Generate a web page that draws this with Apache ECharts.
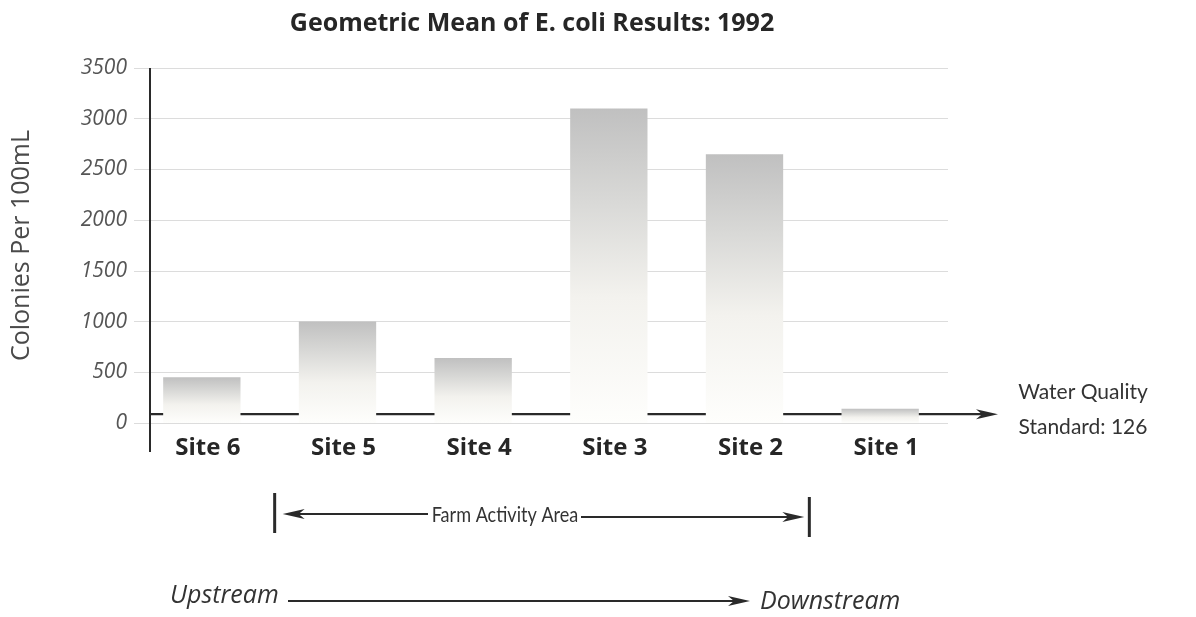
<!DOCTYPE html>
<html>
<head>
<meta charset="utf-8">
<script src="https://cdn.jsdelivr.net/npm/echarts@6/dist/echarts.min.js"></script>
<style>
html,body{margin:0;padding:0;background:#fff;}
#c{width:1196px;height:617px;}
</style>
</head>
<body>
<div id="c"></div>
<script>
const categories = ['Site 6', 'Site 5', 'Site 4', 'Site 3', 'Site 2', 'Site 1'];
const ecoliValues = [450, 1000, 640, 3100, 2650, 140];
const waterQualityStandard = 126;
const yTicks = [0, 500, 1000, 1500, 2000, 2500, 3000, 3500];

const LATO = 'Lato, "Open Sans", sans-serif';
const OPEN = '"Open Sans", Lato, sans-serif';
const chart = echarts.init(document.getElementById('c'));

const barGradient = new echarts.graphic.LinearGradient(0, 0, 0, 1, [
  {offset: 0, color: '#c0c0c0'},
  {offset: 0.3, color: '#d9d9d7'},
  {offset: 0.6, color: '#f3f2ee'},
  {offset: 1, color: '#fefefc'}
]);

chart.setOption({
  animation: false,
  backgroundColor: '#ffffff',
  title: {
    text: 'Geometric Mean of E. coli Results: 1992',
    left: 527, top: 6, textAlign: 'center',
    textStyle: {fontFamily: OPEN, fontSize: 25, fontWeight: 'bold', color: '#262626'}
  },
  grid: {left: 134, right: 248, top: 68, bottom: 194},
  xAxis: {
    type: 'category',
    data: categories,
    axisLine: {show: false},
    axisTick: {show: false},
    axisLabel: {margin: 13, padding: [0, 0, 0, 12], fontFamily: OPEN, fontSize: 24, fontWeight: 'bold', color: '#262626'}
  },
  yAxis: {
    type: 'value',
    min: yTicks[0], max: yTicks[yTicks.length - 1], interval: 500,
    name: 'Colonies Per 100mL',
    nameLocation: 'middle', nameGap: 100, nameRotate: 90,
    nameTextStyle: {fontFamily: OPEN, fontSize: 25, color: '#4a4a4a'},
    axisLine: {show: false},
    axisTick: {show: false},
    axisLabel: {margin: 7, fontFamily: OPEN, fontSize: 21, fontStyle: 'italic', color: '#555',
      formatter: v => String(v)},
    splitLine: {lineStyle: {color: '#dcdcdc', width: 1}}
  },
  series: [{
    type: 'bar',
    data: ecoliValues,
    barWidth: '57%',
    itemStyle: {color: barGradient}
  }]
});

// decorations positioned through the chart's own scales
const yStd = chart.convertToPixel({yAxisIndex: 0}, waterQualityStandard);
const y0 = chart.convertToPixel({yAxisIndex: 0}, 0);
const yTop = chart.convertToPixel({yAxisIndex: 0}, yTicks[yTicks.length - 1]);
const xs = categories.map((c, i) => chart.convertToPixel({xAxisIndex: 0}, i));
const axisX = 150;
const farmL = (xs[0] + xs[1]) / 2 + 5;
const farmR = (xs[4] + xs[5]) / 2 - 3;
const arrowEnd = 998;
const ink = '#2a2a2a';
const txt = (extra) => Object.assign({fill: '#333', textVerticalAlign: 'middle'}, extra);

function arrowHead(x, y, dir) { // dir 1 = right, -1 = left
  return {type: 'polygon', shape: {points: [[x, y], [x - dir * 22, y - 5], [x - dir * 16, y], [x - dir * 22, y + 5]]}, style: {fill: ink}};
}

chart.setOption({
  graphic: [
    // y axis line
    {type: 'line', shape: {x1: axisX, y1: yTop, x2: axisX, y2: y0 + 29}, style: {stroke: ink, lineWidth: 2}},
    // water quality standard line with arrow
    {type: 'line', shape: {x1: axisX, y1: yStd + 4, x2: arrowEnd - 14, y2: yStd + 4}, style: {stroke: ink, lineWidth: 2.2}},
    arrowHead(arrowEnd, yStd + 4, 1),
    {type: 'text', x: 1083, y: 392, style: txt({text: 'Water Quality', textAlign: 'center', fontFamily: LATO, fontSize: 21})},
    {type: 'text', x: 1083, y: 427, style: txt({text: 'Standard: 126', textAlign: 'center', fontFamily: LATO, fontSize: 21})},
    // farm activity area
    {type: 'line', shape: {x1: farmL, y1: 493, x2: farmL, y2: 533}, style: {stroke: ink, lineWidth: 3}},
    {type: 'line', shape: {x1: farmR, y1: 497, x2: farmR, y2: 537}, style: {stroke: ink, lineWidth: 3}},
    {type: 'line', shape: {x1: farmL + 14, y1: 514, x2: 428, y2: 514}, style: {stroke: ink, lineWidth: 2}},
    arrowHead(farmL + 8, 514, -1),
    {type: 'text', x: 505, y: 515, scaleX: 0.86,
      style: txt({text: 'Farm Activity Area', textAlign: 'center', fontFamily: LATO, fontSize: 21})},
    {type: 'line', shape: {x1: 581, y1: 517, x2: farmR - 12, y2: 517}, style: {stroke: ink, lineWidth: 2}},
    arrowHead(farmR - 5, 517, 1),
    // upstream / downstream
    {type: 'text', x: 170, y: 596, style: txt({text: 'Upstream', textAlign: 'left', fontFamily: OPEN, fontStyle: 'italic', fontSize: 25})},
    {type: 'line', shape: {x1: 288, y1: 601, x2: 738, y2: 601}, style: {stroke: ink, lineWidth: 2}},
    arrowHead(750, 601, 1),
    {type: 'text', x: 760, y: 602, style: txt({text: 'Downstream', textAlign: 'left', fontFamily: OPEN, fontStyle: 'italic', fontSize: 25})}
  ]
});
</script>
</body>
</html>
